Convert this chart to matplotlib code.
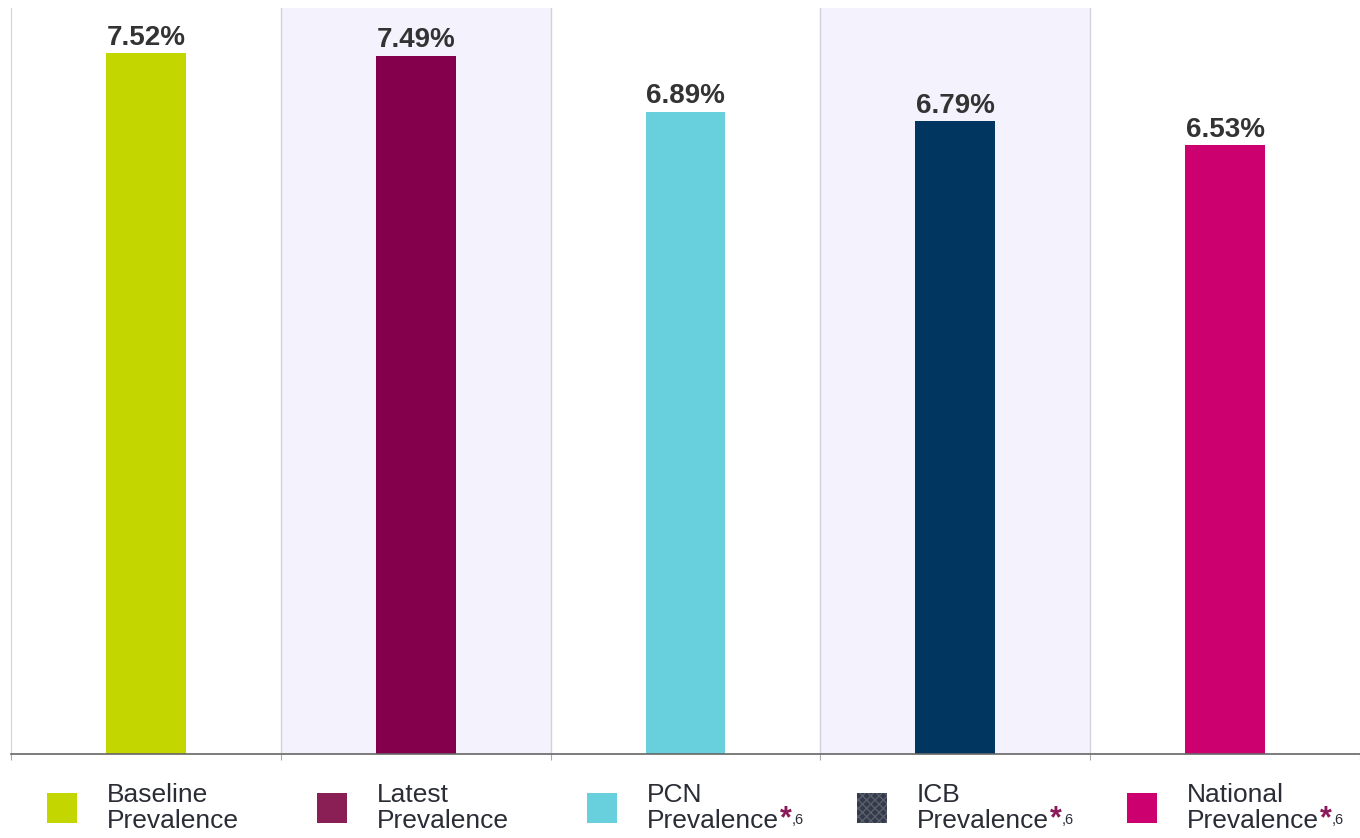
import matplotlib.pyplot as plt
from matplotlib.patches import Rectangle

# data
categories = ['Baseline\nPrevalence', 'Latest\nPrevalence', 'PCN\nPrevalence',
              'ICB\nPrevalence', 'National\nPrevalence']
values = [7.52, 7.49, 6.89, 6.79, 6.53]
colors = ['#c4d600', '#84004c', '#68d0dc', '#00365f', '#cc006e']
legend_colors = ['#c4d600', '#8a1f55', '#68d0dc', '#353a48', '#cc006e']
starred = [False, False, True, True, True]
shaded = [1, 3]

plt.rcParams['font.family'] = ['Liberation Sans', 'DejaVu Sans']

fig = plt.figure(figsize=(13.6, 8.38), dpi=100)
ax = fig.add_axes([11/1360, 84/838, 1349/1360, 746/838])

x = list(range(len(values)))

# shaded bands + separators
for i in shaded:
    ax.axvspan(i - 0.5, i + 0.5, color='#f3f2fd', zorder=0, lw=0)
for b in [0.5, 1.5, 2.5, 3.5]:
    ax.axvline(b, color='#d2d2da', lw=1, zorder=0.5)

ax.bar(x, values, width=0.296, color=colors, zorder=2)

for xi, v in zip(x, values):
    ax.annotate(f'{v:.2f}%', (xi, v), xytext=(0, 1.5), textcoords='offset points',
                ha='center', va='bottom', fontsize=20, fontweight='bold',
                color='#333333')

ax.set_xlim(-0.5, len(values) - 0.5)
ax.set_ylim(0, 8)
ax.set_yticks([])
ax.set_xticks([i - 0.5 for i in range(len(values) + 1)])
ax.set_xticklabels([])
ax.tick_params(axis='x', length=4, color='#aaaaaa')
ax.spines['top'].set_visible(False)
ax.spines['right'].set_visible(False)
ax.spines['left'].set_color('#d2d2da')
ax.spines['bottom'].set_color('#666666')
ax.spines['bottom'].set_linewidth(1.2)

# legend drawn under each bar
tr = ax.get_xaxis_transform()
for i, (lab, c, star) in enumerate(zip(categories, legend_colors, starred)):
    sq = Rectangle((i - 0.365, -0.0925), 0.111, 0.0402, transform=tr,
                   facecolor=c, edgecolor='none', clip_on=False)
    if lab.startswith('ICB'):
        sq.set_hatch('xxxx')
        sq.set_edgecolor('#5a5f70')
        sq.set_linewidth(0)
    ax.add_patch(sq)
    t = ax.text(i - 0.143, -0.039, lab, transform=tr, ha='left', va='top',
                fontsize=19, color='#2b2d36', linespacing=1.1)
    if star:
        s = ax.annotate('*', xy=(1, 0), xycoords=t, xytext=(1, 4),
                        textcoords='offset points', ha='left', va='baseline',
                        fontsize=22, fontweight='bold', color='#8b1a5a')
        ax.annotate(',6', xy=(1, 0), xycoords=s, xytext=(0, 5),
                    textcoords='offset points', ha='left', va='bottom',
                    fontsize=10.5, color='#2b2d36')

fig.savefig('out.png', dpi=100)
